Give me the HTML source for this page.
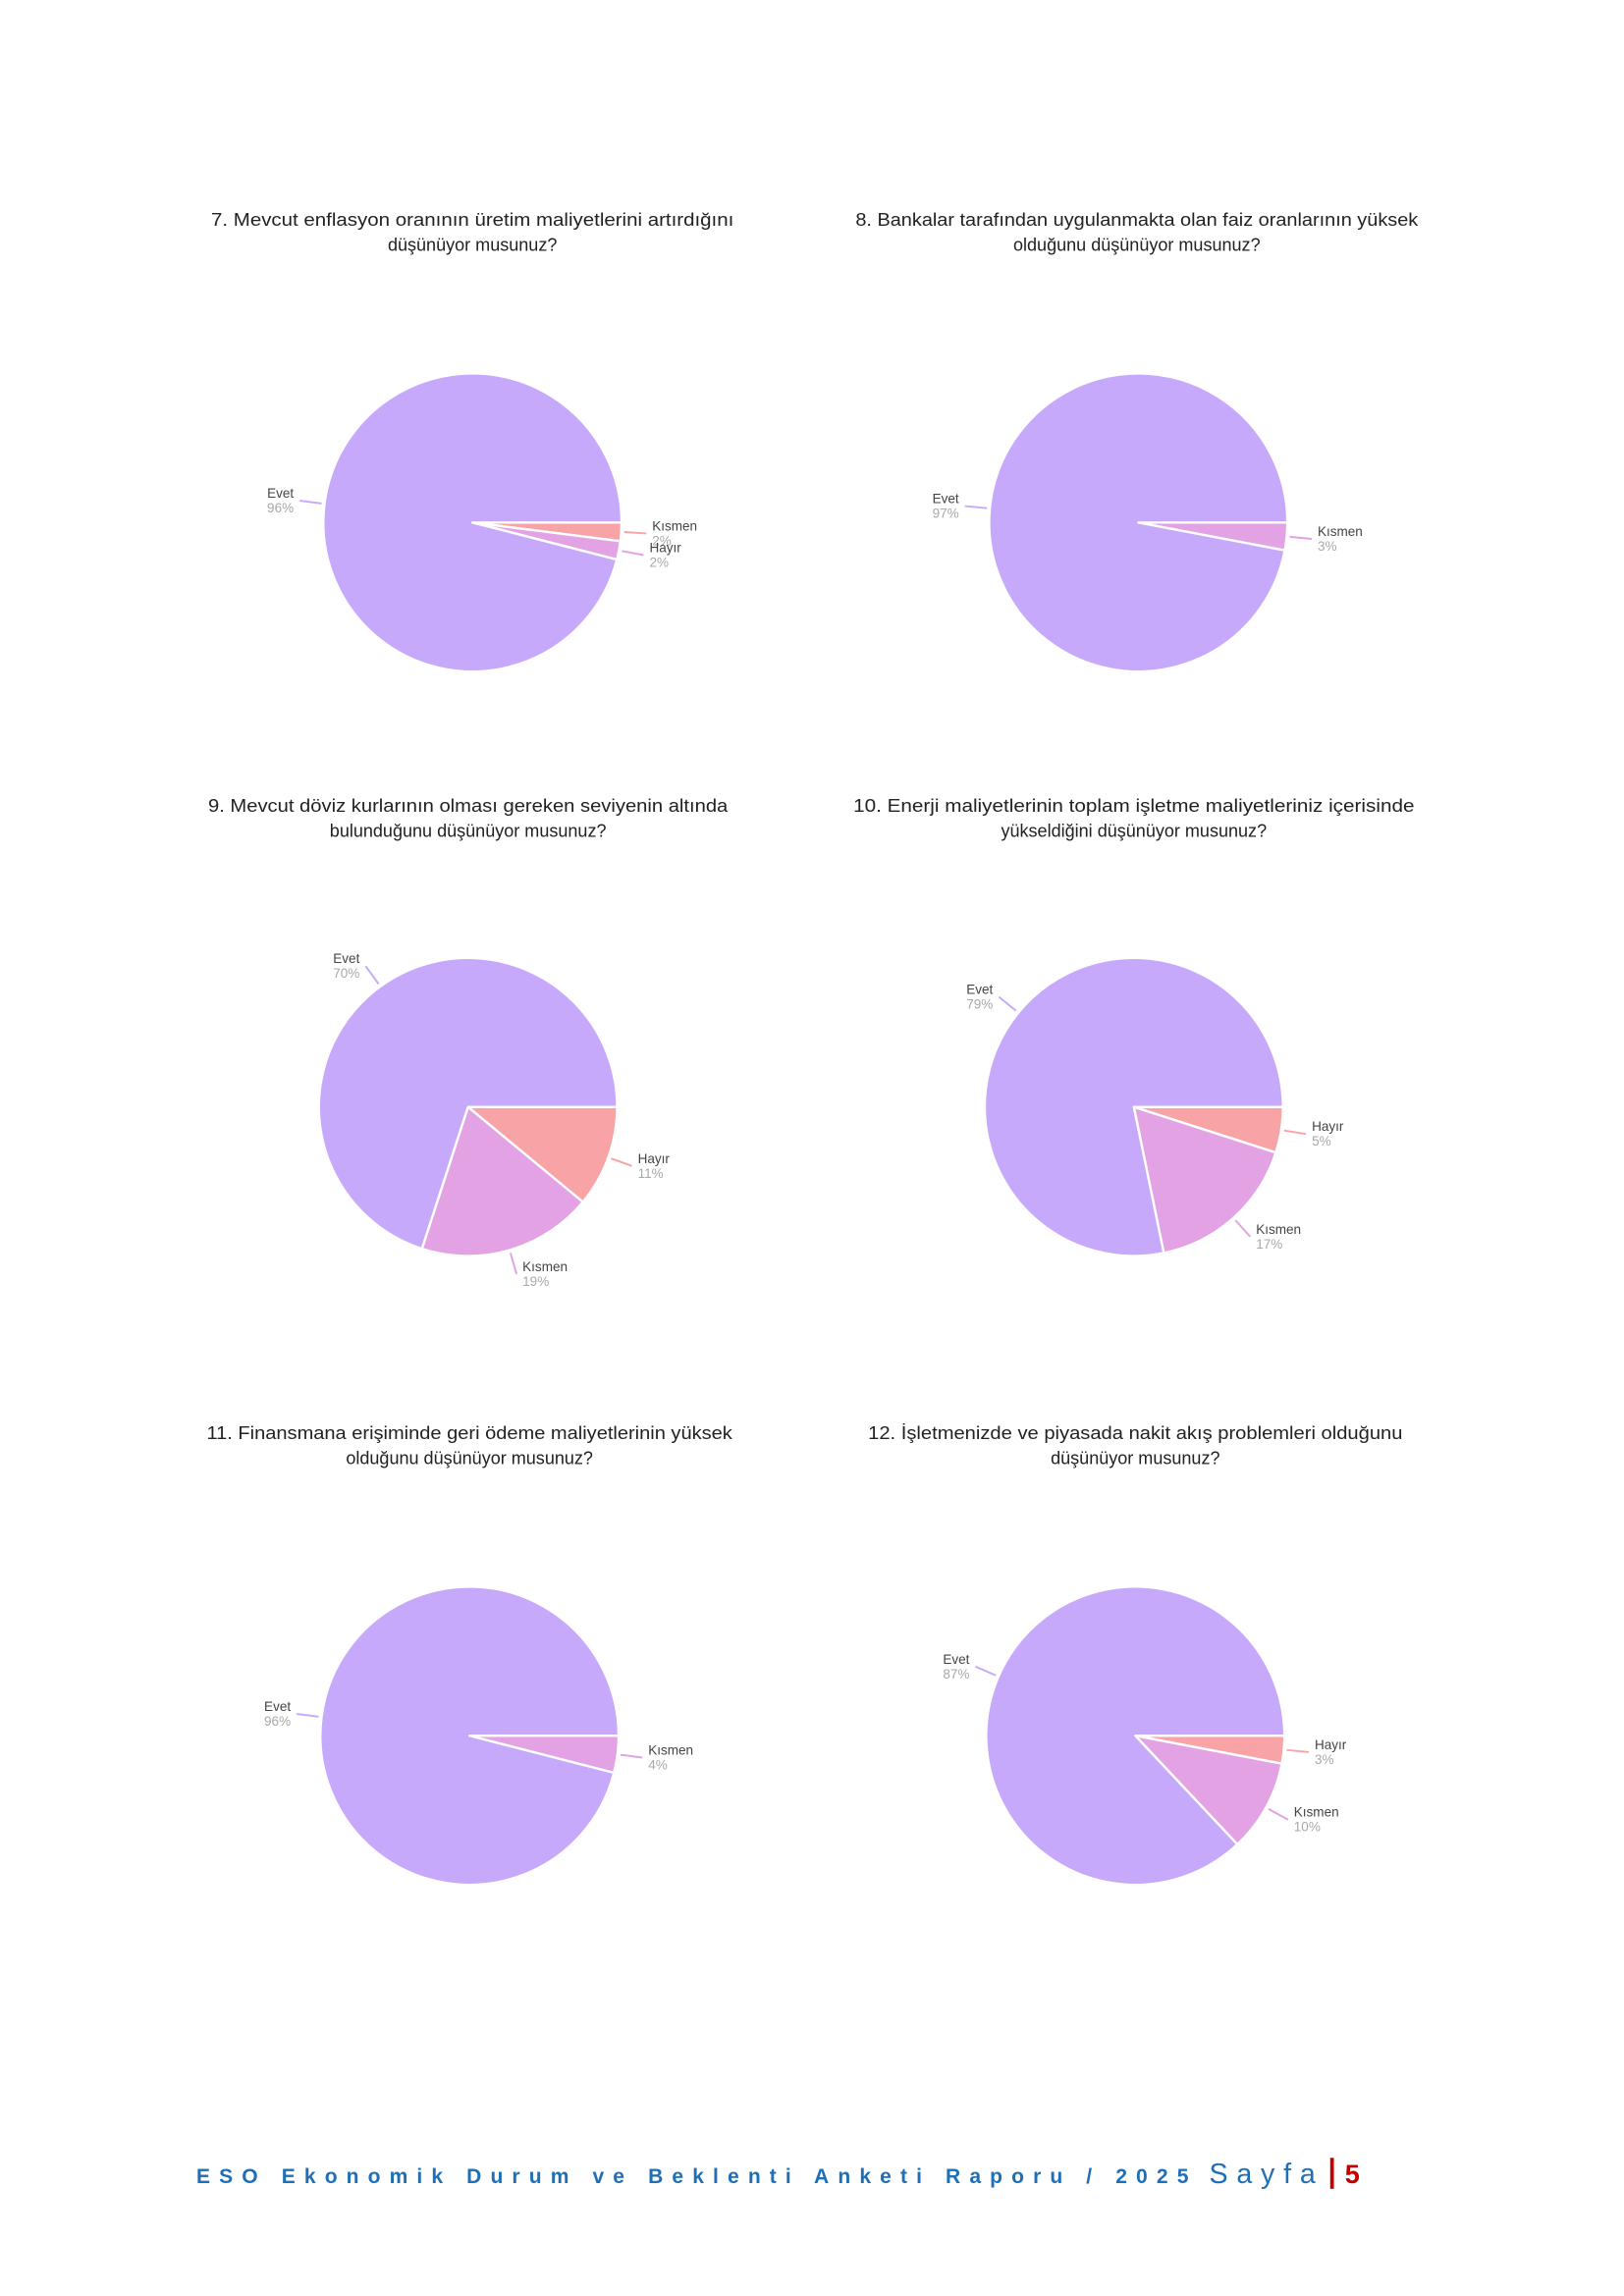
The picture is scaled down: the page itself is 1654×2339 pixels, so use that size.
<!DOCTYPE html>
<html><head><meta charset="utf-8">
<style>
html,body{margin:0;padding:0;background:#fff;}
svg{display:block;}
.title{font-family:"Liberation Sans",sans-serif;font-size:12px;fill:#222;font-weight:500;}
.lname{font-family:"Liberation Sans",sans-serif;font-size:9px;fill:#444;}
.lpct{font-family:"Liberation Sans",sans-serif;font-size:9px;fill:#a8a8a8;}
</style></head>
<body>
<svg id="page" width="1654" height="2339" viewBox="0 0 1100 1555.6" preserveAspectRatio="none" xmlns="http://www.w3.org/2000/svg">
<g id="charts"></g>
<text x="133" y="1479" font-family="Liberation Sans, sans-serif" font-size="14" font-weight="bold" fill="#1f6fb8" textLength="672" lengthAdjust="spacing">ESO Ekonomik Durum ve Beklenti Anketi Raporu / 2025</text>
<text x="819" y="1479" font-family="Liberation Sans, sans-serif" font-size="19" fill="#1f6fb8" textLength="72" lengthAdjust="spacing">Sayfa</text>
<rect x="901" y="1462" width="2.5" height="21" fill="#c00000"/>
<text x="911" y="1479" font-family="Liberation Sans, sans-serif" font-size="18" font-weight="bold" fill="#c00000">5</text>
</svg>
<script>
// Chart data (slices drawn clockwise from 3 o'clock)
const titles1 = [
 "7. Mevcut enflasyon oranının üretim maliyetlerini artırdığını",
 "8. Bankalar tarafından uygulanmakta olan faiz oranlarının yüksek",
 "9. Mevcut döviz kurlarının olması gereken seviyenin altında",
 "10. Enerji maliyetlerinin toplam işletme maliyetleriniz içerisinde",
 "11. Finansmana erişiminde geri ödeme maliyetlerinin yüksek",
 "12. İşletmenizde ve piyasada nakit akış problemleri olduğunu"];
const titles2 = [
 "düşünüyor musunuz?",
 "olduğunu düşünüyor musunuz?",
 "bulunduğunu düşünüyor musunuz?",
 "yükseldiğini düşünüyor musunuz?",
 "olduğunu düşünüyor musunuz?",
 "düşünüyor musunuz?"];
const sliceLabels = [
 ["Kısmen","Hayır","Evet"],
 ["Kısmen","Evet"],
 ["Hayır","Kısmen","Evet"],
 ["Hayır","Kısmen","Evet"],
 ["Kısmen","Evet"],
 ["Hayır","Kısmen","Evet"]];
const sliceValues = [
 [2,2,96],
 [3,97],
 [11,19,70],
 [5,17,79],
 [4,96],
 [3,10,87]];
const sliceColors = [
 ["#f8a3a6","#e2a2e4","#c6a9fb"],
 ["#e2a2e4","#c6a9fb"],
 ["#f8a3a6","#e2a2e4","#c6a9fb"],
 ["#f8a3a6","#e2a2e4","#c6a9fb"],
 ["#e2a2e4","#c6a9fb"],
 ["#f8a3a6","#e2a2e4","#c6a9fb"]];

const layout = [
 {cx:320,cy:354,tx:320,ty:153,tl:354},
 {cx:771,cy:354,tx:770,ty:153,tl:381},
 {cx:317,cy:750,tx:317,ty:550,tl:352},
 {cx:768,cy:750,tx:768,ty:550,tl:380},
 {cx:318,cy:1176,tx:318,ty:975,tl:356},
 {cx:769,cy:1176,tx:769,ty:975,tl:362}];
const R = 101;
const NS = "http://www.w3.org/2000/svg";
const root = document.getElementById('charts');
function mk(tag, attrs, parent){const e=document.createElementNS(NS,tag);for(const k in attrs)e.setAttribute(k,attrs[k]);parent.appendChild(e);return e;}
function angleScale(v,total){return v/total*2*Math.PI;}
function pt(cx,cy,r,a){return [cx+r*Math.cos(a), cy+r*Math.sin(a)];}

layout.forEach((L,i)=>{
  const g = mk('g',{},root);
  
  
  const t1 = mk('text',{x:L.tx,y:L.ty,'text-anchor':'middle','class':'title',textLength:L.tl,lengthAdjust:'spacingAndGlyphs'},g);
  t1.textContent = titles1[i];
  
  
  const t2 = mk('text',{x:L.tx,y:L.ty+17,'text-anchor':'middle','class':'title'},g);
  t2.textContent = titles2[i];
  
  
  const vals = sliceValues[i];
  const total = vals.reduce((a,b)=>a+b,0);
  let a0 = 0;
  vals.forEach((v,j)=>{
    const a1 = a0 + angleScale(v,total);
    const p0 = pt(L.cx,L.cy,R,a0), p1 = pt(L.cx,L.cy,R,a1);
    const large = (a1-a0) > Math.PI ? 1 : 0;
    const path = mk('path',{d:`M${L.cx},${L.cy} L${p0[0]},${p0[1]} A${R},${R} 0 ${large} 1 ${p1[0]},${p1[1]} Z`,fill:sliceColors[i][j],stroke:'#fff','stroke-width':1.6,'stroke-linejoin':'round'},g);
    
    
    const am = (a0+a1)/2;
    const q0 = pt(L.cx,L.cy,R+2,am), q1 = pt(L.cx,L.cy,R+17,am);
    const ln = mk('line',{x1:q0[0],y1:q0[1],x2:q1[0],y2:q1[1],stroke:sliceColors[i][j],'stroke-width':1.3},g);
    
    
    const right = Math.cos(am) >= 0;
    const lx = q1[0] + (right?4:-4);
    const anchor = right?'start':'end';
    const n = mk('text',{x:lx,y:q1[1]-2,'text-anchor':anchor,'class':'lname'},g);
    n.textContent = sliceLabels[i][j];
    
    
    const p = mk('text',{x:lx,y:q1[1]+8,'text-anchor':anchor,'class':'lpct'},g);
    p.textContent = vals[j]+'%';
    
    
    a0 = a1;
  });
});
</script>
</body></html>
